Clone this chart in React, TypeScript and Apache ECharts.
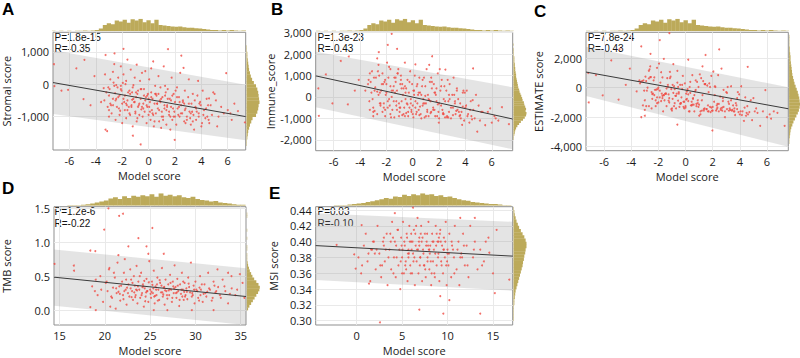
import React, { useEffect, useRef } from "react";
import * as echarts from "echarts";

// ---------------- DATA ----------------
// Model score shared by panels A, B, C
const modelScoreABC = [
  -7.17, -7.13, -6.1, -5.47, -4.86, -4.93, -3.26, -2.58, -1.9, -3.26, -3.14, 1.47, 2.48, 0.2, -1.19, -0.6, 1.98, 5.88, 4.58, 7.3, 6.77, -6.6, -4.4, -4.1, 6.2, 5.5, 5.2, 4.9, 6.5,
  -3.4, -3.3, -3.1, -3.0, -2.9, -2.8, -2.7, -2.6, -2.6, -2.5, -3.2, -2.9, -2.7, -3.0, -2.55,
  -2.4, -2.3, -2.3, -2.2, -2.1, -2.1, -2.0, -2.0, -1.9, -1.8, -1.8, -1.7, -1.7, -1.6, -1.6, -1.55, -2.45, -2.15, -1.95, -1.65,
  -1.45, -1.4, -1.35, -1.3, -1.2, -1.2, -1.1, -1.05, -1.0, -0.95, -0.9, -0.85, -0.8, -0.75, -0.7, -0.65, -0.6, -0.55, -0.5, -1.25, -0.9, -1.15,
  -0.45, -0.4, -0.35, -0.3, -0.25, -0.2, -0.15, -0.1, -0.05, 0.0, 0.05, 0.1, 0.15, 0.2, 0.25, 0.3, 0.35, 0.4, 0.45, 0.5,
  0.55, 0.6, 0.7, 0.75, 0.8, 0.85, 0.9, 1.0, 1.05, 1.1, 1.15, 1.2, 1.3, 1.35, 1.4, 1.45, 0.65, 0.95, 1.25,
  1.55, 1.6, 1.7, 1.75, 1.8, 1.9, 1.95, 2.0, 2.1, 2.15, 2.2, 2.3, 2.35, 2.4, 2.45, 1.65, 2.05,
  2.55, 2.6, 2.7, 2.75, 2.8, 2.9, 3.0, 3.05, 3.1, 3.2, 3.25, 3.35, 3.4, 3.45, 2.65,
  3.55, 3.6, 3.7, 3.8, 3.9, 4.0, 4.1, 4.2, 4.3, 4.4, 4.6, 4.7, 4.8, 5.0, 3.75,
  -3.35, -3.05, -2.85, -2.65, -2.45, -2.25, -2.05, -1.85, -1.75, -1.5,
  -1.45, -1.3, -1.15, -1.0, -0.85, -0.7, -0.55, -0.4, -0.25, -0.1,
  0.05, 0.2, 0.35, 0.5, 0.65, 0.8, 0.95, 1.1, 1.25, 1.4,
  1.55, 1.7, 1.85, 2.0, 2.15, 2.3, 2.45, 2.6, 2.75, 2.9,
  3.05, 3.2, 3.35, 3.5, 3.65, 3.8, 3.95, 4.15, 4.35, 4.55,
  -2.95, -2.5, -2.1, -1.7, -1.25, -0.8, -0.35, 0.1, 0.55, 1.0,
  1.45, 1.9, 2.35, 2.8, 3.3, 3.85, 4.45, 5.1, 5.7, 6.3,
  -3.6, -3.0, -2.35, -1.9, -1.4, -0.95, -0.5, 0.0, 0.45, 0.9,
  1.35, 1.8, 2.25, 2.7, 3.15, 3.6, 4.05, 4.5, 5.3, 6.0,
  -2.7, -2.2, -1.6, -1.05, -0.6, -0.15, 0.3, 0.75, 1.2, 1.65,
];
const stromalScore = [
  615, -60, -175, 490, 750, -460, 900, 950, 1090, -1400, -1450, 1080, 880, 490, -1590, -1860, -1720, 340, -440, -1180, -830, -200, -650, 250, -900, -700, -1300, -250, -600,
  -120, 300, -700, -350, 150, -900, -450, 620, -50, -1100, -250, -600, 380, -1000, -280,
  -700, 200, -400, -950, 550, -150, -1200, -600, 300, -350, -800, 100, -1050, -500, 760, -250, -30, -820, 40, -650,
  -900, -300, 450, -700, -100, -1300, -550, 200, -850, -400, 600, -1050, -200, -650, -950, 100, -450, -780, 350, -480, -1150, -30,
  -1000, -600, -150, -850, 400, -400, -1200, -700, -300, -950, 150, -550, -1100, -250, -800, -450, 700, -1300, -600, -50,
  -900, -350, -750, 250, -1150, -500, -100, -850, -400, -1000, 550, -650, -250, -1250, -700, -150, -600, -1350, -50,
  -950, -450, -700, 200, -1100, -300, -850, -550, -1250, -100, -750, -400, -1000, 350, -650, -1400, -200,
  -900, -500, -1150, -200, -750, -1000, -400, 150, -850, -1250, -600, -300, -950, -1400, 500,
  -700, -1100, -350, -900, -550, -1300, -200, -800, -1050, -450, -1200, -650, -950, -300, 100,
  -500, -100, -650, 50, -450, -750, -200, -550, 0, -700,
  -200, -650, -450, -900, -300, -600, -150, -750, -500, -350,
  -700, -400, -950, -300, -600, -800, -450, -1100, -350, -650,
  -850, -500, -750, -1000, -400, -700, -900, -550, -800, -1100,
  -600, -900, -1150, -500, -850, -1000, -650, -950, -750, -1100,
  -150, -500, -50, -600, -250, -700, -350, -850, -300, -1000,
  -450, -1000, -550, -1200, -850, -600, -1000, -500, -900, -1100,
  -550, -800, -100, -450, -950, -250, -700, -450, -1150, -550,
  -800, -350, -950, -600, -1050, -750, -1200, -650, -1000, -800,
  -650, -350, -800, -550, -150, -650, -900, -300, -750, -1000,
];
const immuneScore = [
  400, -880, -300, 1680, 1890, -350, 1100, 2090, 2430, -600, 200, 1900, 1280, 1520, 2250, -900, -1200, -530, 1330, -1270, -480, 1050, 300, 800, -900, -1320, -700, -1620, -1100,
  600, -200, 1200, -500, 300, 900, -800, 100, 1500, -300, 700, -650, 250, -900, 1000,
  300, -700, 1100, -300, 800, -900, 200, 600, -500, 1400, -100, -800, 500, 0, 2950, -600, -400, 700, 1600, -950,
  500, -950, 200, 900, -600, 300, 1300, -300, -700, 600, 1000, -200, -850, 100, 400, -500, 1600, -100, -750, -400, 800, 1100,
  -300, 800, -900, 200, -500, 1200, -100, -700, 600, -400, -950, 300, 1000, -200, -800, 500, -300, 100, -600, 900,
  200, -800, 500, -400, -100, 900, -950, -300, 1300, -600, 100, -900, 700, -200, -700, 400, -1000, 50, 1500,
  -500, 600, -900, 100, -200, 1100, -700, -1000, 300, -400, 800, -800, -100, 500, -950, 200, 1300,
  300, -900, -200, -700, 600, -1000, 100, -500, 900, -300, -800, 400, -600, -100, 800,
  -900, -300, -700, 200, -1100, -500, 300, -800, -1200, -200, -600, -1000, 100, -400, -1300,
  800, -100, 450, 1200, -300, 600, 100, 900, -400, 300,
  -200, 700, 1100, -500, 400, -800, 200, -350, 700, -600,
  300, -500, 600, -850, 100, -300, 500, -700, -150, 900,
  -600, 200, -900, -300, 500, -750, -200, -950, 100, -500,
  -850, -200, 300, -700, -1000, -450, 200, -900, -600, -150,
  900, 200, -600, 1300, -200, 600, -700, 100, -450, -900,
  700, -350, -800, -100, -650, 300, -900, -1100, -700, -1000,
  300, -700, 600, -200, 900, -500, 400, -800, 200, -300,
  -750, 400, -600, -950, 100, -850, -400, -1050, -700, -1200,
  1800, -500, 300, -900, 500, -300, -700, 800, -100, -600,
];
const estimateScore = [
  1000, -1000, -515, 1850, 2620, -800, 2800, 2300, 3230, -2000, -1200, 2220, 2600, 1900, 3700, -2500, -2900, -160, 1420, -2580, -1700, 850, 200, 1300, -1800, -2580, -1400, -2200, -1600,
  500, 400, 500, -850, 450, 0, -1250, 720, 1450, -1400, 450, -1250, 630, -1900, 720,
  -400, -500, 700, -1250, 1350, -1050, -1000, 0, -200, 1050, -900, -700, -550, -500, 1960, -850, -430, -120, 1640, -1600,
  -400, -1250, 650, 200, -700, -1000, 750, -100, -1550, 200, 1600, -1250, -1050, -550, -550, -400, 1150, -880, -400, -880, -350, 1070,
  -1300, 200, -1050, -650, -100, 800, -1300, -1400, 300, -1350, -800, -250, -100, -450, -1600, 50, 400, -1200, -1200, 850,
  -700, -1150, -250, -150, -1250, 400, -1050, -1150, 900, -1600, 650, -1550, 450, -1450, -1400, 250, -1600, -1300, 1450,
  -1450, 150, -1600, 300, -1300, 800, -1550, -1550, -950, -500, 50, -1200, -1100, 850, -1600, -1200, 1100,
  -600, -1400, -1350, -900, -150, -2000, -300, -350, 50, -1550, -1400, 100, -1550, -1500, 1300,
  -1600, -1400, -1050, -700, -1650, -1800, 100, -1600, -2250, -650, -1800, -1650, -850, -700, -1200,
  300, -200, -200, 1250, -750, -150, -100, 350, -400, -400,
  -400, 50, 650, -1400, 100, -1400, 50, -1100, 200, -950,
  -400, -900, -350, -1150, -500, -1100, 50, -1800, -500, 250,
  -1450, -300, -1650, -1300, 100, -1450, -1100, -1500, -700, -1600,
  -1450, -1100, -850, -1200, -1850, -1450, -450, -1850, -1350, -1250,
  750, -300, -650, 700, -450, -100, -1050, -750, -750, -1900,
  250, -1350, -1350, -1300, -1500, -300, -1900, -1600, -1600, -2100,
  -250, -1500, 500, -650, -50, -750, -300, -1250, -950, -850,
  -1550, 50, -1550, -1550, -950, -1600, -1600, -1700, -1700, -2000,
  1150, -850, -500, -1450, 350, -950, -1600, 500, -850, -1600,
];

const tmbModelScore = [
  14.45, 16.58, 16.6, 18.4, 18.95, 18.4, 19.0, 19.93, 20.4, 21.58, 22.0, 22.6, 21.5, 23.7, 24.6, 25.24, 26.5, 24.8, 32.43, 33.6, 33.97, 34.9, 32.0, 25.4, 26.9, 29.6,
  18.6, 19.2, 19.5, 19.8, 20.1, 20.3, 20.5, 20.8, 19.0, 20.9, 18.9, 20.6,
  21.1, 21.3, 21.4, 21.6, 21.7, 21.9, 22.0, 22.1, 22.3, 22.4, 22.6, 22.7, 22.8, 22.9, 21.2, 22.2,
  23.0, 23.1, 23.2, 23.3, 23.4, 23.5, 23.6, 23.7, 23.8, 23.9, 24.0, 24.1, 24.2, 24.3, 24.4, 24.5, 24.6, 24.7, 24.8, 24.9, 23.25, 24.15,
  25.0, 25.1, 25.2, 25.3, 25.4, 25.5, 25.6, 25.7, 25.8, 25.9, 26.0, 26.1, 26.2, 26.3, 26.4, 26.5, 26.6, 26.7, 26.8, 26.9, 25.35, 26.25,
  27.0, 27.1, 27.2, 27.3, 27.4, 27.5, 27.6, 27.7, 27.8, 27.9, 28.0, 28.1, 28.2, 28.3, 28.4, 28.5, 28.6, 28.7, 28.8, 28.9,
  29.0, 29.1, 29.2, 29.4, 29.5, 29.6, 29.8, 29.9, 30.0, 30.2, 30.3, 30.5, 30.6, 30.8, 30.9,
  31.0, 31.2, 31.4, 31.6, 31.8, 32.0, 32.2, 32.5, 32.8, 33.0, 33.3, 33.6, 34.0, 34.4, 35.2,
  19.6, 20.2, 20.7, 21.0, 21.5, 21.8, 22.05, 22.35, 22.55, 22.85,
  23.05, 23.35, 23.55, 23.85, 24.05, 24.25, 24.45, 24.65, 24.85, 25.05,
  25.25, 25.45, 25.65, 25.85, 26.05, 26.35, 26.55, 26.85, 27.05, 27.25,
  27.45, 27.65, 27.85, 28.05, 28.25, 28.45, 28.65, 28.85, 29.05, 29.3,
  29.7, 30.1, 30.4, 30.7, 31.1, 31.5, 31.9, 32.3, 32.7, 33.2,
  20.45, 21.25, 22.15, 22.95, 23.65, 24.35, 25.15, 25.75, 26.45, 27.15,
  27.95, 28.55, 29.25, 29.85, 30.55, 31.3, 32.1, 33.8, 34.6, 35.4,
  21.65, 22.45, 23.45, 24.55, 25.55, 26.65, 27.55, 28.75, 29.65, 30.45,
];
const tmbScore = [
  0.68, 0.657, 0.58, 0.878, 0.87, 0.044, 0.0, 1.187, 1.5, 1.39, 1.42, 0.94, 0.81, 1.06, 0.94, 1.21, 0.83, 0.83, 0.6, 0.55, 0.5, 0.53, 0.0, 0.0, 0.0, 0.0,
  0.35, 0.22, 0.5, 0.12, 0.4, 0.28, 0.62, 0.18, 0.45, 0.33, 0.28, 0.05,
  0.48, 0.25, 0.7, 0.35, 0.14, 0.42, 0.22, 0.55, 0.3, 0.08, 0.38, 0.2, 0.6, 0.45, 0.02, 0.75,
  0.28, 0.15, 0.5, 0.36, 0.22, 0.65, 0.1, 0.42, 0.3, 0.18, 0.55, 0.25, 0.38, 0.05, 0.32, 0.2, 0.46, 0.28, 0.12, 0.72, 0.26, 0.34,
  0.3, 0.18, 0.42, 0.25, 0.58, 0.1, 0.35, 0.22, 0.48, 0.3, 0.15, 0.4, 0.26, 0.62, 0.2, 0.33, 0.08, 0.45, 0.28, 0.17, 0.32, 0.36,
  0.38, 0.22, 0.52, 0.3, 0.12, 0.42, 0.25, 0.66, 0.34, 0.18, 0.46, 0.28, 0.06, 0.38, 0.24, 0.55, 0.3, 0.15, 0.4, 0.22,
  0.32, 0.16, 0.48, 0.26, 0.7, 0.2, 0.36, 0.1, 0.42, 0.28, 0.18, 0.5, 0.3, 0.12, 0.24,
  0.38, 0.2, 0.55, 0.3, 0.14, 0.42, 0.26, 0.34, 0.18, 0.45, 0.28, 0.1, 0.32, 0.22, 0.4,
  0.3, 0.42, 0.2, 0.55, 0.27, 0.36, 0.16, 0.45, 0.25, 0.32,
  0.4, 0.19, 0.29, 0.5, 0.22, 0.35, 0.13, 0.28, 0.41, 0.24,
  0.37, 0.2, 0.3, 0.14, 0.44, 0.26, 0.34, 0.22, 0.29, 0.4,
  0.18, 0.32, 0.25, 0.36, 0.15, 0.3, 0.42, 0.2, 0.27, 0.34,
  0.22, 0.3, 0.14, 0.38, 0.25, 0.32, 0.18, 0.28, 0.22, 0.35,
  0.6, 0.32, 0.28, 0.19, 0.35, 0.43, 0.27, 0.38, 0.23, 0.31,
  0.26, 0.2, 0.39, 0.3, 0.22, 0.27, 0.36, 0.24, 0.3, 0.18,
  0.24, 0.33, 0.3, 0.26, 0.21, 0.29, 0.35, 0.27, 0.25, 0.33,
];

const msiModelScore = [
  -2.2, -0.26, -0.1, 0.55, 1.36, 4.2, 6.2, 6.9, 9.54, 10.2, 9.2, 11.4, 13.0, 13.6, 15.4, 15.2, 16.8, 14.6, 2.57,
  0.2, 0.5, 0.8, 1.0, 1.2, 1.5, 1.7, 1.9, 2.1, 2.3, 2.5, 2.7, 2.9, 3.1, 3.3, 3.4, 3.6, 3.8, 3.9, 4.1,
  4.2, 4.3, 4.5, 4.6, 4.7, 4.8, 4.9, 5.0, 5.1, 5.2, 5.3, 5.4, 5.5, 5.6, 5.7, 5.8, 5.9, 6.0, 6.1, 6.2,
  6.3, 6.4, 6.5, 6.6, 6.7, 6.8, 6.9, 7.0, 7.1, 7.2, 7.3, 7.4, 7.5, 7.6, 7.7, 7.8, 7.9, 8.0, 8.1, 8.2,
  8.3, 8.4, 8.5, 8.6, 8.7, 8.8, 8.9, 9.0, 9.1, 9.2, 9.3, 9.4, 9.5, 9.6, 9.7, 9.8, 9.9, 10.0, 10.1, 10.2,
  10.4, 10.5, 10.7, 10.8, 11.0, 11.2, 11.3, 11.5, 11.7, 11.9, 12.1, 12.3, 12.5, 12.8, 13.0, 13.3, 13.6, 14.0, 14.5, 15.0,
  5.25, 6.05, 6.85, 7.65, 8.45, 5.65, 7.25, 8.05, 6.45, 9.05,
  2.2, 2.6, 3.0, 3.5, 3.75, 4.05, 4.35, 4.55, 4.85, 5.05,
  5.35, 5.55, 5.75, 5.95, 6.15, 6.35, 6.55, 6.75, 6.95, 7.15,
  7.35, 7.55, 7.75, 7.95, 8.15, 8.35, 8.55, 8.75, 8.95, 9.15,
  9.35, 9.55, 9.75, 9.95, 10.15, 10.45, 10.75, 11.1, 11.6, 12.2,
  1.3, 1.8, 2.8, 3.2, 3.7, 4.4, 4.95, 5.45, 5.85, 6.25,
  6.65, 7.05, 7.45, 7.85, 8.25, 8.65, 9.25, 9.85, 10.6, 11.4,
  0.6, 1.6, 3.0, 4.0, 5.0, 6.0, 7.0, 8.0, 9.0, 10.0,
  12.9, 13.8, 14.2, 2.0, 5.7, 6.9, 7.8, 8.8, 9.6, 11.8,
];
const msiScore = [
  0.396, 0.384, 0.366, 0.421, 0.347, 0.436, 0.443, 0.314, 0.309, 0.326, 0.331, 0.43, 0.43, 0.309, 0.415, 0.335, 0.352, 0.386, 0.298,
  0.38, 0.36, 0.395, 0.41, 0.375, 0.35, 0.39, 0.4, 0.365, 0.42, 0.385, 0.355, 0.4, 0.375, 0.41, 0.345, 0.39, 0.365, 0.425, 0.38,
  0.4, 0.355, 0.415, 0.37, 0.39, 0.34, 0.405, 0.38, 0.425, 0.36, 0.395, 0.375, 0.41, 0.35, 0.39, 0.42, 0.37, 0.4, 0.36, 0.385,
  0.415, 0.345, 0.395, 0.375, 0.43, 0.36, 0.405, 0.38, 0.42, 0.35, 0.39, 0.37, 0.41, 0.355, 0.4, 0.38, 0.425, 0.365, 0.395, 0.345,
  0.41, 0.375, 0.39, 0.355, 0.42, 0.37, 0.4, 0.385, 0.35, 0.415, 0.375, 0.395, 0.36, 0.405, 0.38, 0.425, 0.345, 0.39, 0.37, 0.41,
  0.355, 0.395, 0.38, 0.42, 0.365, 0.4, 0.345, 0.385, 0.41, 0.37, 0.395, 0.355, 0.42, 0.38, 0.4, 0.365, 0.39, 0.375, 0.405, 0.36,
  0.4, 0.39, 0.4, 0.395, 0.4, 0.385, 0.405, 0.385, 0.41, 0.405,
  0.39, 0.37, 0.405, 0.38, 0.4, 0.36, 0.395, 0.415, 0.375, 0.39,
  0.37, 0.405, 0.385, 0.36, 0.4, 0.38, 0.42, 0.39, 0.37, 0.4,
  0.385, 0.365, 0.41, 0.39, 0.375, 0.4, 0.36, 0.395, 0.38, 0.41,
  0.37, 0.39, 0.4, 0.375, 0.385, 0.4, 0.36, 0.39, 0.38, 0.37,
  0.385, 0.4, 0.37, 0.39, 0.41, 0.38, 0.395, 0.365, 0.4, 0.375,
  0.39, 0.41, 0.37, 0.395, 0.36, 0.385, 0.4, 0.37, 0.39, 0.38,
  0.37, 0.39, 0.395, 0.405, 0.36, 0.41, 0.38, 0.39, 0.4, 0.385,
  0.39, 0.37, 0.4, 0.385, 0.38, 0.395, 0.375, 0.41, 0.39, 0.395,
];

// Regression lines: [x, y] end points
const stromalFit = [[-7.24, 50], [7.36, -1000]];
const immuneFit = [[-7.37, 985], [7.59, -1030]];
const estimateFit = [[-7.33, 1064], [7.57, -1424]];
const tmbFit = [[14.39, 0.485], [35.58, 0.2]];
const msiFit = [[-4.5, 0.395], [17.17, 0.3817]];

// Shaded bands: [x, lower, upper] at both ends
const stromalBand = [[-7.24, -920, 1050], [7.36, -1730, -20]];
const immuneBand = [[-7.37, -481, 2117], [7.59, -2444, 453]];
const estimateBand = [[-7.33, -563, 2780], [7.57, -4000, 27]];
const tmbBand = [[14.39, 0.063, 0.893], [35.58, -0.22, 0.618]];
const msiBand = [[-4.5, 0.3516, 0.4358], [17.17, 0.3379, 0.4251]];

// Marginal histograms: first bin start, bin width, counts
const modelScoreHistStart = -7.35;
const modelScoreHistWidth = 0.3;
const modelScoreHistCounts = [1, 0, 1, 0, 1, 0, 1, 1, 2, 1, 2, 3, 6, 14, 18, 16, 24, 22, 26, 19, 27, 24, 28, 20, 25, 18, 26, 14, 13, 12, 11, 10, 11, 9, 8, 8, 7, 6, 5, 4, 3, 3, 2, 3, 2, 3, 2, 1, 2, 1];

const stromalHistStart = -2000;
const stromalHistWidth = 100;
const stromalHistCounts = [0, 1, 1, 2, 3, 4, 6, 8, 11, 14, 22, 25, 27, 28, 30, 29, 28, 27, 25, 22, 17, 13, 10, 8, 6, 5, 4, 3, 2, 2, 1, 1, 0, 0, 0, 0];

const immuneHistStart = -2000;
const immuneHistWidth = 100;
const immuneHistCounts = [1, 1, 2, 3, 4, 6, 9, 13, 17, 22, 26, 29, 30, 28, 29, 27, 25, 24, 21, 20, 18, 16, 14, 13, 11, 10, 9, 8, 7, 6, 6, 5, 4, 4, 3, 3, 2, 2, 2, 1, 1, 1, 1, 0, 1];

const estimateHistStart = -4000;
const estimateHistWidth = 200;
const estimateHistCounts = [0, 1, 1, 2, 3, 4, 6, 9, 12, 16, 20, 24, 27, 29, 30, 29, 28, 26, 24, 21, 18, 15, 13, 11, 9, 8, 7, 6, 5, 4, 4, 3, 2, 2, 1, 1, 1, 1, 0];

const tmbModelHistStart = 14.5;
const tmbModelHistWidth = 0.5;
const tmbModelHistCounts = [0, 0, 0, 1, 1, 1, 2, 3, 4, 6, 8, 10, 14, 16, 13, 18, 15, 19, 17, 20, 18, 22, 17, 24, 19, 21, 18, 20, 16, 15, 17, 13, 11, 10, 8, 9, 6, 5, 4, 3, 2, 2];

const tmbHistStart = 0;
const tmbHistWidth = 0.04;
const tmbHistCounts = [3, 6, 10, 14, 18, 22, 26, 29, 30, 27, 22, 17, 13, 10, 7, 5, 3, 2, 1, 1, 1, 0, 1, 1, 0, 0, 1, 0, 0, 1, 0, 0, 0, 0, 1, 1];

const msiModelHistStart = -4.5;
const msiModelHistWidth = 0.5;
const msiModelHistCounts = [0, 0, 0, 0, 1, 1, 1, 2, 3, 4, 5, 7, 8, 10, 12, 14, 13, 17, 16, 20, 18, 21, 19, 23, 20, 21, 18, 19, 16, 17, 14, 12, 10, 9, 7, 6, 5, 4, 3, 3, 2, 1, 1];

const msiHistStart = 0.296;
const msiHistWidth = 0.004;
const msiHistCounts = [0, 1, 1, 1, 1, 1, 2, 2, 3, 4, 5, 7, 9, 11, 13, 15, 17, 19, 21, 22, 24, 25, 27, 28, 30, 30, 28, 25, 21, 17, 13, 10, 7, 5, 3, 2, 1];

const abcXTicks = [-6, -4, -2, 0, 2, 4, 6];
const stromalYTicks = [-1000, 0, 1000];
const immuneYTicks = [-2000, -1000, 0, 1000, 2000, 3000];
const estimateYTicks = [-4000, -2000, 0, 2000];
const tmbXTicks = [15, 20, 25, 30, 35];
const tmbYTicks = [0, 0.5, 1.0, 1.5];
const msiXTicks = [0, 5, 10, 15];
const msiYTicks = [0.3, 0.32, 0.34, 0.36, 0.38, 0.4, 0.42, 0.44];

// ---------------- STYLE ----------------
const FONT = "'Open Sans', 'Noto Sans', sans-serif";
const STAT_FONT = "'Liberation Sans', Arial, sans-serif";
const HIST = "#bcaa5a";
const DOT = "#f04a42";
const BAND = "rgba(150,150,150,0.26)";

type Rect = { left: number; top: number; width: number; height: number };
type Panel = {
  letter: string;
  letterPos: [number, number];
  yName: string;
  yNameGap: number;
  main: Rect;
  xRange: [number, number];
  yRange: [number, number];
  xTicks: number[];
  yTicks: number[];
  yFmt: (v: number) => string;
  xs: number[];
  ys: number[];
  fit: number[][];
  band: number[][];
  topHist: { start: number; width: number; counts: number[] };
  rightHist: { start: number; width: number; counts: number[] };
  p: string;
  r: string;
};

const comma = (v: number) => v.toLocaleString("en-US");

const panels: Panel[] = [
  {
    letter: "A", letterPos: [2, 1], yName: "Stromal score", yNameGap: 41,
    main: { left: 52.7, top: 32.3, width: 193, height: 117.7 },
    xRange: [-7.24, 7.36], yRange: [-2030, 1600], xTicks: abcXTicks, yTicks: stromalYTicks, yFmt: comma,
    xs: modelScoreABC, ys: stromalScore, fit: stromalFit, band: stromalBand,
    topHist: { start: modelScoreHistStart, width: modelScoreHistWidth, counts: modelScoreHistCounts },
    rightHist: { start: stromalHistStart, width: stromalHistWidth, counts: stromalHistCounts },
    p: "P=1.8e-15", r: "R=-0.35",
  },
  {
    letter: "B", letterPos: [271, 1], yName: "Immune_score", yNameGap: 36,
    main: { left: 315.7, top: 32.3, width: 197, height: 118.4 },
    xRange: [-7.37, 7.59], yRange: [-2510, 3020], xTicks: abcXTicks, yTicks: immuneYTicks, yFmt: comma,
    xs: modelScoreABC, ys: immuneScore, fit: immuneFit, band: immuneBand,
    topHist: { start: modelScoreHistStart, width: modelScoreHistWidth, counts: modelScoreHistCounts },
    rightHist: { start: immuneHistStart, width: immuneHistWidth, counts: immuneHistCounts },
    p: "P=1.3e-23", r: "R=-0.43",
  },
  {
    letter: "C", letterPos: [534, 3], yName: "ESTIMATE score", yNameGap: 42,
    main: { left: 586, top: 32.3, width: 202.3, height: 118.4 },
    xRange: [-7.33, 7.57], yRange: [-4270, 3760], xTicks: abcXTicks, yTicks: estimateYTicks, yFmt: comma,
    xs: modelScoreABC, ys: estimateScore, fit: estimateFit, band: estimateBand,
    topHist: { start: modelScoreHistStart, width: modelScoreHistWidth, counts: modelScoreHistCounts },
    rightHist: { start: estimateHistStart, width: estimateHistWidth, counts: estimateHistCounts },
    p: "P=7.8e-24", r: "R=-0.43",
  },
  {
    letter: "D", letterPos: [2, 180], yName: "TMB score", yNameGap: 42,
    main: { left: 52.7, top: 206.7, width: 193.3, height: 118.3 },
    xRange: [14.39, 35.58], yRange: [-0.22, 1.524], xTicks: tmbXTicks, yTicks: tmbYTicks, yFmt: (v) => v.toFixed(1),
    xs: tmbModelScore, ys: tmbScore, fit: tmbFit, band: tmbBand,
    topHist: { start: tmbModelHistStart, width: tmbModelHistWidth, counts: tmbModelHistCounts },
    rightHist: { start: tmbHistStart, width: tmbHistWidth, counts: tmbHistCounts },
    p: "P=1.2e-6", r: "R=-0.22",
  },
  {
    letter: "E", letterPos: [269, 185], yName: "MSI score", yNameGap: 37,
    main: { left: 315.7, top: 206.7, width: 197, height: 118.3 },
    xRange: [-4.5, 17.17], yRange: [0.2946, 0.4442], xTicks: msiXTicks, yTicks: msiYTicks, yFmt: (v) => v.toFixed(2),
    xs: msiModelScore, ys: msiScore, fit: msiFit, band: msiBand,
    topHist: { start: msiModelHistStart, width: msiModelHistWidth, counts: msiModelHistCounts },
    rightHist: { start: msiHistStart, width: msiHistWidth, counts: msiHistCounts },
    p: "P=0.03", r: "R=-0.10",
  },
];

function binItems(h: { start: number; width: number; counts: number[] }) {
  return h.counts.map((c, i) => [h.start + i * h.width, h.start + (i + 1) * h.width, c]);
}

function buildOption() {
  const grid: any[] = [];
  const xAxis: any[] = [];
  const yAxis: any[] = [];
  const series: any[] = [];
  const graphic: any[] = [];
  const labelStyle = { color: "#1a1a1a", fontSize: 11, fontFamily: FONT };

  panels.forEach((pn, k) => {
    const g = k * 3;
    const m = pn.main;
    grid.push({ left: m.left, top: m.top, width: m.width, height: m.height, show: true, borderColor: "#8f8f8f", borderWidth: 1, backgroundColor: "#fff" });
    grid.push({ left: m.left, top: m.top - 13.5, width: m.width, height: 12.5 });
    grid.push({ left: m.left + m.width + 0.8, top: m.top, width: 13, height: m.height });

    xAxis.push({
      gridIndex: g, type: "value", min: pn.xRange[0], max: pn.xRange[1],
      axisLine: { show: false },
      axisTick: { show: false, customValues: pn.xTicks },
      axisLabel: { customValues: pn.xTicks, margin: 5, ...labelStyle },
      splitLine: { show: true, lineStyle: { color: "#e9e9e9", width: 1 } },
      name: "Model score", nameLocation: "middle", nameGap: 20,
      nameTextStyle: { ...labelStyle },
    });
    yAxis.push({
      gridIndex: g, type: "value", min: pn.yRange[0], max: pn.yRange[1],
      axisLine: { show: false },
      axisTick: { show: false, customValues: pn.yTicks },
      axisLabel: { customValues: pn.yTicks, margin: 4, formatter: (v: number) => pn.yFmt(v), ...labelStyle },
      splitLine: { show: true, lineStyle: { color: "#e9e9e9", width: 1 } },
      name: pn.yName, nameLocation: "middle", nameGap: pn.yNameGap,
      nameTextStyle: { ...labelStyle },
    });
    const topMax = Math.max(...pn.topHist.counts);
    xAxis.push({ gridIndex: g + 1, type: "value", min: pn.xRange[0], max: pn.xRange[1], show: false });
    yAxis.push({ gridIndex: g + 1, type: "value", min: 0, max: topMax, show: false });
    const rightMax = Math.max(...pn.rightHist.counts);
    xAxis.push({ gridIndex: g + 2, type: "value", min: 0, max: rightMax, show: false });
    yAxis.push({ gridIndex: g + 2, type: "value", min: pn.yRange[0], max: pn.yRange[1], show: false });

    const b = pn.band;
    series.push({
      type: "custom", xAxisIndex: g, yAxisIndex: g, silent: true, clip: true, z: 1,
      data: [[b[0][0], b[0][1], b[0][2], b[1][0], b[1][1], b[1][2]]],
      encode: { x: [0, 3], y: [1, 2, 4, 5] },
      renderItem: (_p: any, api: any) => {
        const pts = [
          api.coord([api.value(0), api.value(2)]),
          api.coord([api.value(3), api.value(5)]),
          api.coord([api.value(3), api.value(4)]),
          api.coord([api.value(0), api.value(1)]),
        ];
        return { type: "polygon", shape: { points: pts }, style: { fill: BAND } };
      },
    });
    series.push({
      type: "scatter", xAxisIndex: g, yAxisIndex: g, silent: true, z: 2,
      symbol: "circle", symbolSize: 2,
      itemStyle: { color: DOT },
      data: pn.xs.map((x, i) => [x, pn.ys[i]]),
    });
    series.push({
      type: "line", xAxisIndex: g, yAxisIndex: g, silent: true, z: 3,
      symbol: "none", data: pn.fit,
      lineStyle: { color: "#3a3a3a", width: 1 },
    });
    series.push({
      type: "custom", xAxisIndex: g + 1, yAxisIndex: g + 1, silent: true, clip: true,
      data: binItems(pn.topHist), encode: { x: [0, 1], y: 2 },
      renderItem: (_p: any, api: any) => {
        const a = api.coord([api.value(0), 0]);
        const c = api.coord([api.value(1), api.value(2)]);
        return { type: "rect", shape: { x: a[0], y: c[1], width: c[0] - a[0] + 0.3, height: a[1] - c[1] }, style: { fill: HIST } };
      },
    });
    series.push({
      type: "custom", xAxisIndex: g + 2, yAxisIndex: g + 2, silent: true, clip: true,
      data: binItems(pn.rightHist), encode: { x: 2, y: [0, 1] },
      renderItem: (_p: any, api: any) => {
        const a = api.coord([0, api.value(0)]);
        const c = api.coord([api.value(2), api.value(1)]);
        return { type: "rect", shape: { x: a[0], y: c[1], width: c[0] - a[0], height: a[1] - c[1] + 0.3 }, style: { fill: HIST } };
      },
    });

    graphic.push({
      type: "text", left: pn.letterPos[0], top: pn.letterPos[1],
      style: { text: pn.letter, fontSize: 17, fontWeight: "bold", fontFamily: STAT_FONT, fill: "#000" },
    });
    graphic.push({
      type: "text", left: m.left + 1.8, top: m.top - 0.2,
      style: { text: pn.p, fontSize: 10, fontFamily: STAT_FONT, fill: "#111" },
    });
    graphic.push({
      type: "text", left: m.left + 1.8, top: m.top + 11.6,
      style: { text: pn.r, fontSize: 10, fontFamily: STAT_FONT, fill: "#111" },
    });
  });

  return { animation: false, backgroundColor: "#fff", grid, xAxis, yAxis, series, graphic };
}

export default function App() {
  const ref = useRef<HTMLDivElement>(null);
  useEffect(() => {
    if (!ref.current) return;
    const chart = echarts.init(ref.current, undefined, { renderer: "svg" });
    chart.setOption(buildOption() as any);
    return () => chart.dispose();
  }, []);
  return <div ref={ref} style={{ position: "absolute", left: 0, top: 0, width: 800, height: 358 }} />;
}
